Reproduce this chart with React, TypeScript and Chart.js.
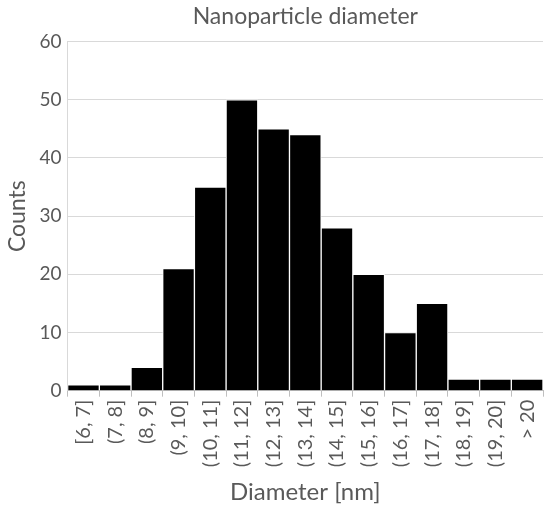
import React, { useEffect, useRef } from "react";
import { Chart, registerables } from "chart.js";

Chart.register(...registerables);

const categories = ["[6, 7]", "(7, 8]", "(8, 9]", "(9, 10]", "(10, 11]", "(11, 12]", "(12, 13]", "(13, 14]", "(14, 15]", "(15, 16]", "(16, 17]", "(17, 18]", "(18, 19]", "(19, 20]", "> 20"];
const counts = [1, 1, 4, 21, 35, 50, 45, 44, 28, 20, 10, 15, 2, 2, 2];
const yTicks = [0, 10, 20, 30, 40, 50, 60];

const FONT = "Lato, 'Open Sans', sans-serif";
const TEXT = "#595959";

const centerTitleOverPlot = {
  id: "centerTitleOverPlot",
  afterLayout(chart: any) {
    const tb = chart.titleBlock;
    if (tb && chart.chartArea) {
      tb.left = chart.chartArea.left;
      tb.right = chart.chartArea.right;
      tb.width = tb.right - tb.left;
    }
  },
};

export default function App() {
  const ref = useRef<HTMLCanvasElement | null>(null);
  useEffect(() => {
    if (!ref.current) return;
    const chart = new Chart(ref.current, {
      type: "bar",
      data: {
        labels: categories,
        datasets: [
          {
            data: counts,
            backgroundColor: "#000000",
            borderColor: "#ffffff",
            borderWidth: 1,
            barPercentage: 1,
            categoryPercentage: 1,
          },
        ],
      },
      plugins: [centerTitleOverPlot],
      options: {
        animation: false,
        responsive: false,
        maintainAspectRatio: false,
        layout: { padding: { left: 4, right: 7, top: 2, bottom: 3 } },
        plugins: {
          legend: { display: false },
          tooltip: { enabled: false },
          title: {
            display: true,
            text: "Nanoparticle diameter",
            color: TEXT,
            font: { family: FONT, size: 23, weight: "normal" },
            padding: { top: 1, bottom: 11 },
          },
        },
        scales: {
          x: {
            afterFit: (axis: any) => {
              axis.paddingRight = 0;
              axis.paddingLeft = 0;
            },
            grid: {
              drawOnChartArea: false,
              drawTicks: true,
              tickLength: 6,
              color: "#bfbfbf",
              offset: true,
            },
            border: { display: true, color: "#bfbfbf" },
            ticks: {
              color: TEXT,
              font: { family: FONT, size: 20 },
              minRotation: 90,
              maxRotation: 90,
              autoSkip: false,
              padding: 3,
            },
            title: {
              display: true,
              text: "Diameter [nm]",
              color: TEXT,
              font: { family: FONT, size: 24 },
              padding: { top: 8, bottom: 0 },
            },
          },
          y: {
            min: 0,
            max: 60,
            afterBuildTicks: (axis: any) => {
              axis.ticks = yTicks.map((v) => ({ value: v }));
            },
            grid: { color: "#d9d9d9", drawTicks: false },
            border: { display: true, color: "#d9d9d9" },
            ticks: {
              color: TEXT,
              font: { family: FONT, size: 19 },
              padding: 6,
            },
            title: {
              display: true,
              text: "Counts",
              color: TEXT,
              font: { family: FONT, size: 23 },
              padding: { top: 0, bottom: 2 },
            },
          },
        },
      },
    });
    return () => chart.destroy();
  }, []);
  return (
    <div style={{ position: "absolute", left: 0, top: 0, width: 550, height: 510 }}>
      <canvas ref={ref} width={550} height={510} />
    </div>
  );
}
